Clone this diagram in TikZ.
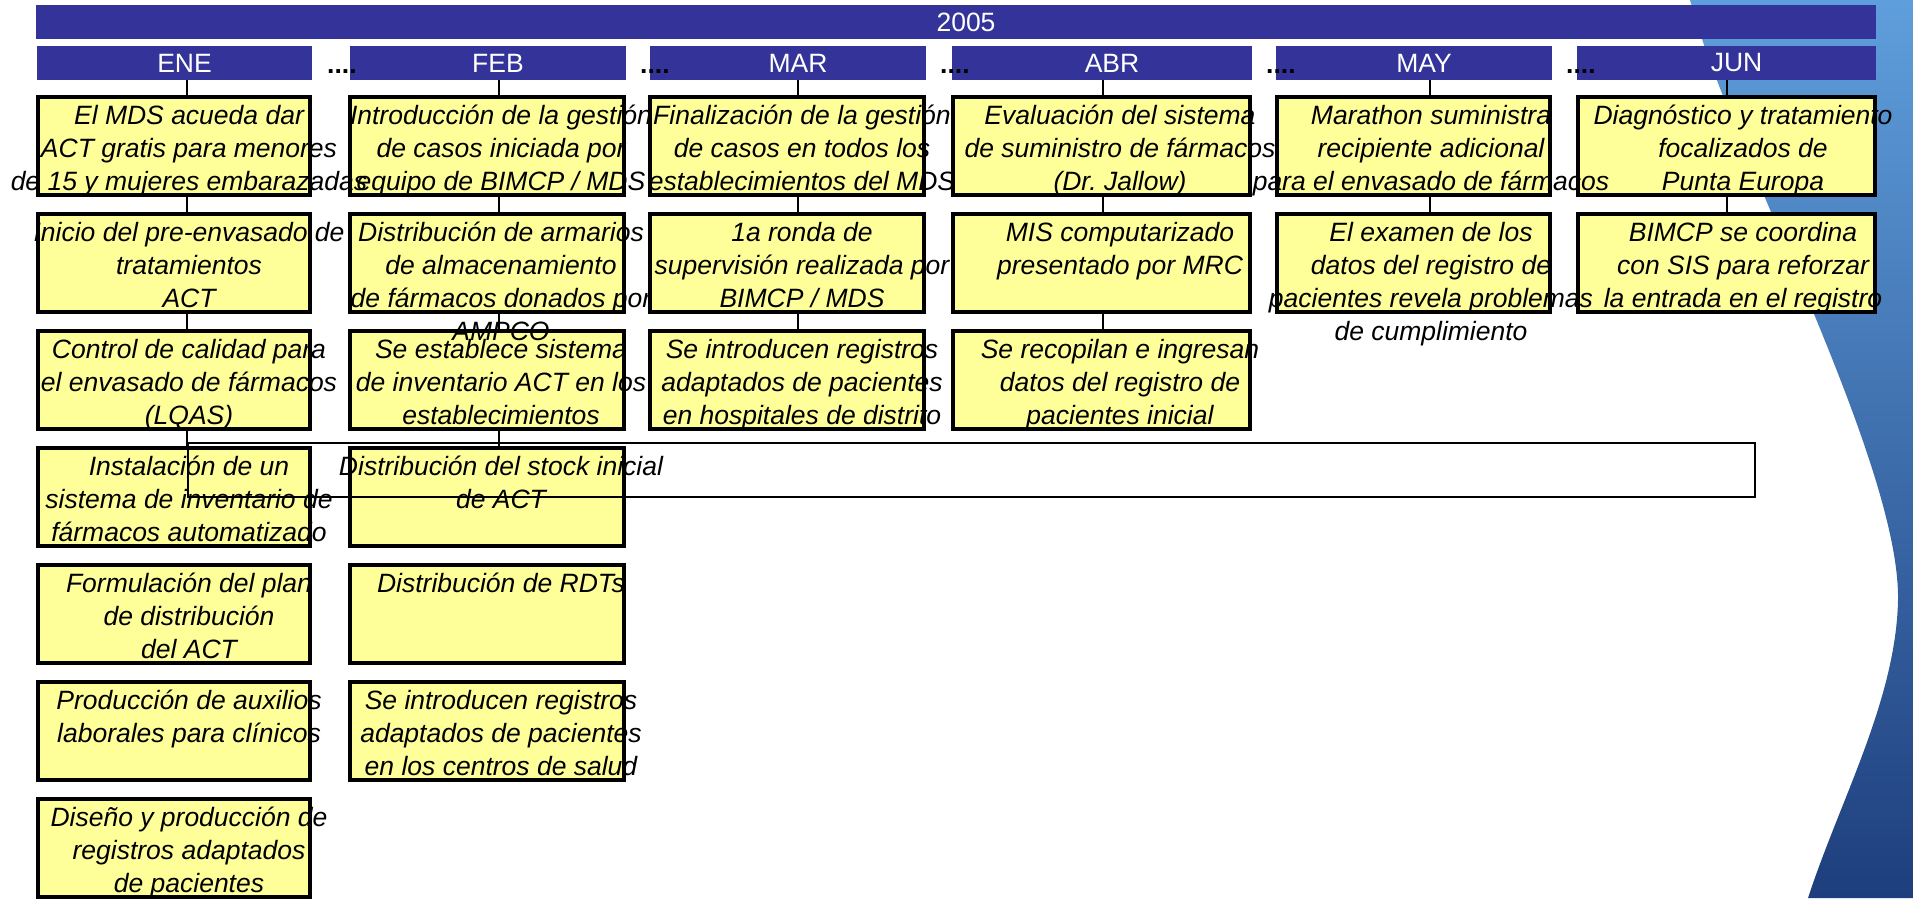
\documentclass[tikz,border=0pt]{standalone}
\usepackage{fontspec}
\setmainfont{Liberation Sans}
\usepackage{xcolor}
\definecolor{monthblue}{RGB}{51,51,153}
\definecolor{taskyellow}{RGB}{255,255,153}
\definecolor{swooshtop}{RGB}{95,158,220}
\definecolor{swooshmid}{RGB}{68,118,182}
\definecolor{swooshbot}{RGB}{30,62,125}

\tikzset{
  monthbar/.style={fill=monthblue, inner sep=0pt, outer sep=0pt, minimum height=34pt},
  barlabel/.style={text=white, inner sep=0pt, font=\fontsize{26.5}{33}\selectfont},
  taskbox/.style={draw=black, line width=4pt, fill=taskyellow, inner sep=0pt, minimum height=98pt},
  tasktext/.style={anchor=north, align=center, inner sep=0pt, font=\fontsize{26.5}{33}\selectfont\itshape},
  link/.style={line width=2.5pt},
  dots/.style={anchor=base west, inner sep=0pt, font=\fontsize{26.5}{33}\selectfont\bfseries}
}

\begin{document}
\begin{tikzpicture}[x=1pt,y=-1pt]
\useasboundingbox (0,0) rectangle (1913,898);
\shade[top color=swooshtop, middle color=swooshmid, bottom color=swooshbot] (1690,0) .. controls (1730,150) and (1900,460) .. (1898,600) .. controls (1896,700) and (1840,800) .. (1808,898) -- (1913,898) -- (1913,0) -- cycle;

\node[monthbar, minimum width=1840pt] (yearbar) at (956,22) {};
\node[barlabel] (yearlbl) at ([xshift=10pt]yearbar.center) {2005};

\foreach \m/\t/\l/\r in {ene/ENE/37/312, feb/FEB/350/626, mar/MAR/650/926, abr/ABR/952/1252, may/MAY/1276/1552, jun/JUN/1577/1876} {
  \node[monthbar, minimum width={\r-\l}] (\m bar) at ({(\l+\r)/2},63) {};
  \node[barlabel] (\m lbl) at ([xshift=10pt]\m bar.center) {\t};
}

\foreach \d/\x in {1/327, 2/640, 3/940, 4/1266, 5/1566}
  \node[dots] (dots\d) at (\x,73) {....};

\foreach \m/\l/\r/\n in {ene/36/312/7, feb/348/626/6, mar/648/926/3, abr/951/1252/3, may/1275/1552/2, jun/1576/1877/2}
  \foreach \i in {1,...,\n}
    \node[taskbox, minimum width={\r-\l-4}] (\m\i) at ({(\l+\r)/2},{146+117*(\i-1)}) {};

\foreach \m/\k/\n in {ene/187/4, feb/499/4, mar/798/3, abr/1103/3, may/1430/2, jun/1727/2} {
  \coordinate (\m line) at (\k,0);
  \draw[link] (\m bar.south -| \m line) -- (\m1.north -| \m line);
  \foreach \i in {2,...,\n} {
    \pgfmathtruncatemacro\p{\i-1}
    \draw[link] (\m\p.south -| \m line) -- (\m\i.north -| \m line);
  }
}

\draw[line width=1.2pt] (188,443) rectangle (1755,497);

\node[tasktext] (ene1t) at (189,105) {El MDS acueda dar\\ACT gratis para menores\\de 15 y mujeres embarazadas};
\node[tasktext] (ene2t) at (189,222) {Inicio del pre-envasado de\\tratamientos\\ACT};
\node[tasktext] (ene3t) at (189,339) {Control de calidad para\\el envasado de fármacos\\(LQAS)};
\node[tasktext] (ene4t) at (189,456) {Instalación de un\\sistema de inventario de\\fármacos automatizado};
\node[tasktext] (ene5t) at (189,573) {Formulación del plan\\de distribución\\del ACT};
\node[tasktext] (ene6t) at (189,690) {Producción de auxilios\\laborales para clínicos};
\node[tasktext] (ene7t) at (189,807) {Diseño y producción de\\registros adaptados\\de pacientes};

\node[tasktext] (feb1t) at (501,105) {Introducción de la gestión\\de casos iniciada por\\equipo de BIMCP / MDS};
\node[tasktext] (feb2t) at (501,222) {Distribución de armarios\\de almacenamiento\\de fármacos donados por\\AMPCO};
\node[tasktext] (feb3t) at (501,339) {Se establece sistema\\de inventario ACT en los\\establecimientos};
\node[tasktext] (feb4t) at (501,456) {Distribución del stock inicial\\de ACT};
\node[tasktext] (feb5t) at (501,573) {Distribución de RDTs};
\node[tasktext] (feb6t) at (501,690) {Se introducen registros\\adaptados de pacientes\\en los centros de salud};

\node[tasktext] (mar1t) at (802,105) {Finalización de la gestión\\de casos en todos los\\establecimientos del MDS};
\node[tasktext] (mar2t) at (802,222) {1a ronda de\\supervisión realizada por\\BIMCP / MDS};
\node[tasktext] (mar3t) at (802,339) {Se introducen registros\\adaptados de pacientes\\en hospitales de distrito};

\node[tasktext] (abr1t) at (1120,105) {Evaluación del sistema\\de suministro de fármacos\\(Dr.\ Jallow)};
\node[tasktext] (abr2t) at (1120,222) {MIS computarizado\\presentado por MRC};
\node[tasktext] (abr3t) at (1120,339) {Se recopilan e ingresan\\datos del registro de\\pacientes inicial};

\node[tasktext] (may1t) at (1431,105) {Marathon suministra\\recipiente adicional\\para el envasado de fármacos};
\node[tasktext] (may2t) at (1431,222) {El examen de los\\datos del registro de\\pacientes revela problemas\\de cumplimiento};

\node[tasktext] (jun1t) at (1743,105) {Diagnóstico y tratamiento\\focalizados de\\Punta Europa};
\node[tasktext] (jun2t) at (1743,222) {BIMCP se coordina\\con SIS para reforzar\\la entrada en el registro};
\end{tikzpicture}
\end{document}
